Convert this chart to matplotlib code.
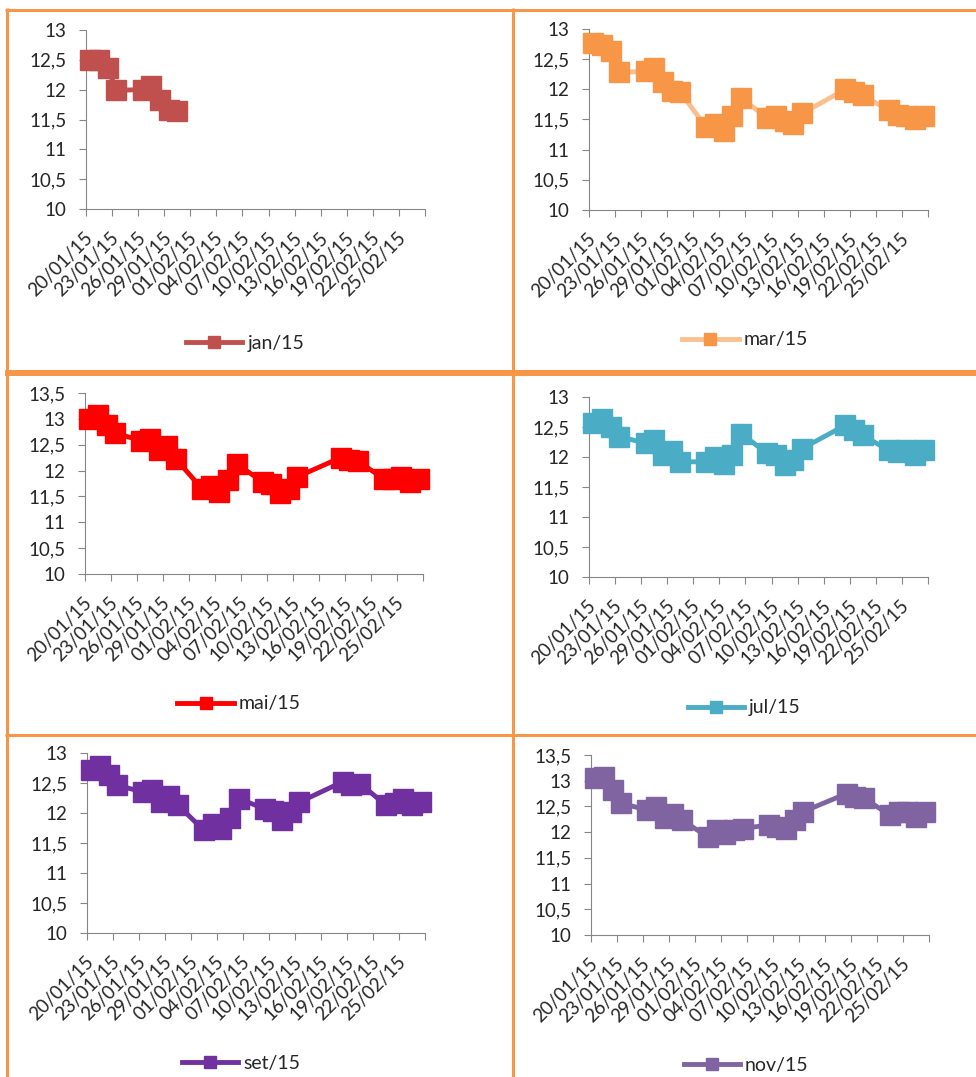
import datetime as dt
import matplotlib
matplotlib.use("Agg")
import matplotlib.pyplot as plt
from matplotlib.lines import Line2D
from matplotlib.transforms import ScaledTranslation

plt.rcParams["font.family"] = ["Lato", "DejaVu Sans"]

# Trading days (dd/mm/yy)
trade_dates = [
    "20/01/15", "21/01/15", "22/01/15", "23/01/15",
    "26/01/15", "27/01/15", "28/01/15", "29/01/15", "30/01/15",
    "02/02/15", "03/02/15", "04/02/15", "05/02/15", "06/02/15",
    "09/02/15", "10/02/15", "11/02/15", "12/02/15", "13/02/15",
    "18/02/15", "19/02/15", "20/02/15",
    "23/02/15", "24/02/15", "25/02/15", "26/02/15", "27/02/15",
]

# Contract rates per maturity
jan15 = [12.50, 12.50, 12.36, 11.99, 12.00, 12.06, 11.83, 11.66, 11.65]
mar15 = [12.77, 12.74, 12.63, 12.28, 12.30, 12.35, 12.12, 11.97, 11.95,
         11.37, 11.42, 11.31, 11.56, 11.85, 11.53, 11.55, 11.48, 11.42, 11.60,
         12.00, 11.95, 11.90, 11.65, 11.57, 11.55, 11.50, 11.55]
mai15 = [12.99, 13.07, 12.88, 12.72, 12.58, 12.62, 12.40, 12.48, 12.22,
         11.65, 11.70, 11.59, 11.81, 12.13, 11.78, 11.75, 11.56, 11.65, 11.88,
         12.25, 12.20, 12.18, 11.84, 11.84, 11.87, 11.78, 11.84]
jul15 = [12.56, 12.64, 12.50, 12.34, 12.23, 12.28, 12.03, 12.10, 11.92,
         11.92, 12.00, 11.89, 12.03, 12.39, 12.06, 12.03, 11.87, 11.95, 12.14,
         12.53, 12.45, 12.36, 12.11, 12.08, 12.11, 12.03, 12.11]
set15 = [12.71, 12.78, 12.63, 12.46, 12.35, 12.39, 12.18, 12.29, 12.13,
         11.71, 11.82, 11.74, 11.91, 12.24, 12.07, 12.04, 11.89, 12.02, 12.18,
         12.52, 12.46, 12.49, 12.13, 12.16, 12.24, 12.13, 12.18]
nov15 = [13.05, 13.08, 12.82, 12.56, 12.43, 12.49, 12.27, 12.36, 12.23,
         11.91, 12.04, 11.97, 12.04, 12.07, 12.14, 12.10, 12.07, 12.23, 12.40,
         12.75, 12.69, 12.66, 12.33, 12.40, 12.40, 12.30, 12.40]

labels = ["jan/15", "mar/15", "mai/15", "jul/15", "set/15", "nov/15"]
values = [jan15, mar15, mai15, jul15, set15, nov15]
line_colors = ["#C0504D", "#FAC090", "#FF0000", "#4BACC6", "#7030A0", "#8064A2"]
marker_colors = ["#C0504D", "#F79646", "#FF0000", "#4BACC6", "#7030A0", "#8064A2"]
y_max = [13, 13, 13.5, 13, 13, 13.5]

axis_start = "20/01/15"
axis_end = "28/02/15"
tick_step_days = 3

W, H = 976, 1077
DPI = 100
fig = plt.figure(figsize=(W / DPI, H / DPI), dpi=DPI)
fig.patch.set_facecolor("white")

# panel geometry in pixels: plot left, right, top, bottom; legend centre
panels = [
    (86, 425, 30, 209, (245, 343)),
    (589, 928, 29, 210, (745, 340)),
    (85, 423, 393, 574, (239, 704)),
    (589, 928, 397, 577, (744, 708)),
    (87, 425, 753, 933, (241, 1063)),
    (591, 929, 755, 935, (746, 1065)),
]


def parse(s):
    return dt.datetime.strptime(s, "%d/%m/%y")


start = parse(axis_start)
end = parse(axis_end)
n_ticks = (end - start).days // tick_step_days + 1
major = [start + dt.timedelta(days=tick_step_days * k) for k in range(n_ticks)]
minor = [d + dt.timedelta(hours=12) for d in major[:-1]]
minor_labels = [d.strftime("%d/%m/%y") for d in major[:-1]]

axis_grey = "#868686"
text_col = "#262626"
fs = 13.5

for i, (x0, x1, yt, yb, (lx, ly)) in enumerate(panels):
    ax = fig.add_axes([x0 / W, 1 - yb / H, (x1 - x0) / W, (yb - yt) / H])
    vals = values[i]
    xs = [parse(s) + dt.timedelta(hours=12) for s in trade_dates[:len(vals)]]
    ax.plot(xs, vals, color=line_colors[i], lw=3.5, marker="s", ms=14.5,
            mfc=marker_colors[i], mec=marker_colors[i], solid_joinstyle="round",
            clip_on=False, zorder=3)
    ax.set_xlim(start, end)
    ax.set_ylim(10, y_max[i])
    yt_vals = [10 + 0.5 * k for k in range(int((y_max[i] - 10) / 0.5) + 1)]
    ax.set_yticks(yt_vals)
    ax.set_yticklabels([f"{v:g}".replace(".", ",") for v in yt_vals])
    ax.set_xticks(major)
    ax.set_xticklabels([""] * len(major))
    ax.set_xticks(minor, minor=True)
    ax.set_xticklabels(minor_labels, minor=True, rotation=45, ha="right",
                       va="center", rotation_mode="anchor")
    shift = ScaledTranslation(4 / DPI, 0, fig.dpi_scale_trans)
    for lab in ax.get_xticklabels(minor=True):
        lab.set_transform(lab.get_transform() + shift)
    ax.tick_params(axis="x", which="major", length=5, width=0.8, color=axis_grey,
                   direction="out")
    ax.tick_params(axis="x", which="minor", length=0, pad=19, labelsize=fs,
                   labelcolor=text_col)
    ax.tick_params(axis="y", length=5, width=0.8, color=axis_grey, pad=9,
                   labelsize=fs, labelcolor=text_col)
    for s in ("top", "right"):
        ax.spines[s].set_visible(False)
    for s in ("left", "bottom"):
        ax.spines[s].set_color(axis_grey)
        ax.spines[s].set_linewidth(0.8)
    ax.set_facecolor("none")

    handle = Line2D([], [], color=line_colors[i], lw=3.5, marker="s", ms=8.5,
                    mfc=marker_colors[i], mec=marker_colors[i])
    leg = ax.legend([handle], [labels[i]], loc="center",
                    bbox_to_anchor=(lx / W, 1 - ly / H),
                    bbox_transform=fig.transFigure, frameon=False,
                    handlelength=2.9, handletextpad=0.25,
                    prop={"size": fs + 0.5})
    for t in leg.get_texts():
        t.set_color(text_col)

# cell borders
border = "#F79646"


def hline(y, x0, x1, w):
    fig.add_artist(Line2D([x0 / W, x1 / W], [1 - y / H, 1 - y / H],
                          transform=fig.transFigure, color=border,
                          lw=w * 72 / DPI, solid_capstyle="butt"))


def vline(x, y0, y1, w):
    fig.add_artist(Line2D([x / W, x / W], [1 - y0 / H, 1 - y1 / H],
                          transform=fig.transFigure, color=border,
                          lw=w * 72 / DPI, solid_capstyle="butt"))


hline(9.5, 5, W, 3)
hline(373, 5, W, 6)
hline(734.5, 5, W, 3)
vline(6.5, 8, H, 3)
vline(512.5, 8, H, 3)

fig.savefig("out.png", dpi=DPI, facecolor="white")
